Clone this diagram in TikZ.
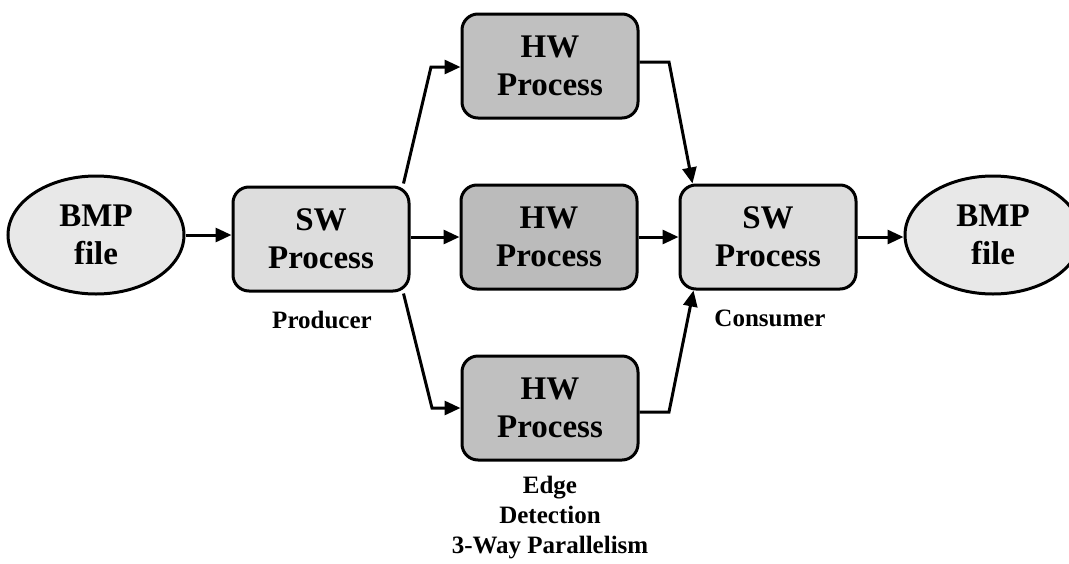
\documentclass[tikz,border=0pt]{standalone}
\usepackage{fontspec}
\setmainfont{Liberation Serif}
\usetikzlibrary{shapes.geometric,arrows.meta}

\definecolor{filefill}{HTML}{E8E8E8}
\definecolor{swfill}{HTML}{DDDDDD}
\definecolor{hwfill}{HTML}{C0C0C0}
\definecolor{hwmid}{HTML}{BBBBBB}

\tikzset{
  base/.style={draw=black, line width=3pt, align=center, inner sep=0pt,
    font=\fontsize{33}{38}\selectfont\bfseries},
  filenode/.style={base, ellipse, fill=filefill, minimum width=176pt, minimum height=118pt},
  swbox/.style={base, rectangle, rounded corners=16pt, fill=swfill, minimum width=176pt, minimum height=104pt},
  hwbox/.style={base, rectangle, rounded corners=16pt, fill=hwfill, minimum width=176pt, minimum height=104pt},
  caption/.style={align=center, inner sep=0pt, font=\fontsize{25}{30}\selectfont\bfseries},
  flow/.style={line width=3pt, -{Triangle[length=16pt,width=14pt]}},
}

\begin{document}
\begin{tikzpicture}[x=1pt, y=-1pt]
  \useasboundingbox (0,0) rectangle (1069,563);
  \clip (0,0) rectangle (1069,563);

  % nodes
  \node[filenode] (in)   at (96,235)  {BMP\\file};
  \node[swbox]    (prod) at (321,239) {SW\\Process};
  \node[hwbox]    (hwt)  at (550,66)  {HW\\Process};
  \node[hwbox, fill=hwmid] (hwm) at (549,237) {HW\\Process};
  \node[hwbox]    (hwb)  at (550,408) {HW\\Process};
  \node[swbox]    (cons) at (768,237) {SW\\Process};
  \node[filenode] (out)  at (993,235) {BMP\\file};

  % captions
  \node[caption] (lprod) at (322,320) {Producer};
  \node[caption] (lcons) at (770,318) {Consumer};
  \node[caption, anchor=north] (ledge) at (550,476) {Edge\\Detection\\3-Way Parallelism};

  % elbow points of the fan-out / fan-in connectors
  \coordinate (ft) at (431,67);
  \coordinate (fb) at (432,408);
  \coordinate (jt) at (669,62);
  \coordinate (jb) at (669,412);

  % straight flow
  \draw[flow] (in.east |- 0,235) -- (prod.west |- 0,235);
  \draw[flow] (prod.east |- 0,237) -- (hwm.west |- 0,237);
  \draw[flow] (hwm.east |- 0,237) -- (cons.west |- 0,237);
  \draw[flow] (cons.east |- 0,237) -- (out.west |- 0,237);

  % fan-out
  \draw[flow] (prod.north east) ++(-7,-2) -- (ft) -- (hwt.west |- ft);
  \draw[flow] (prod.south east) ++(-7,1) -- (fb) -- (hwb.west |- fb);

  % fan-in
  \draw[flow] (hwt.east |- jt) -- (jt) -- ([shift={(14,0)}]cons.north west);
  \draw[flow] (hwb.east |- jb) -- (jb) -- ([shift={(15,0)}]cons.south west);
\end{tikzpicture}
\end{document}
